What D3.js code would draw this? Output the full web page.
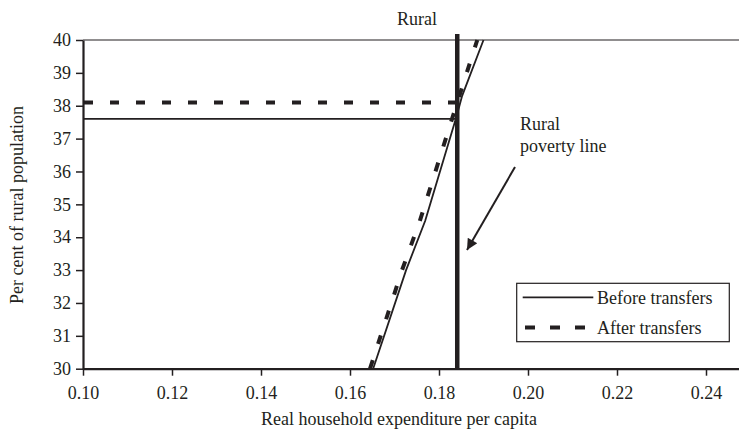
<!DOCTYPE html>
<html>
<head>
<meta charset="utf-8">
<script src="https://cdn.jsdelivr.net/npm/d3@7"></script>
<style>
  html, body { margin: 0; padding: 0; background: #fff; }
  svg text { font-family: "Liberation Serif", "Times New Roman", serif; fill: #231f20; }
</style>
</head>
<body>
<svg id="chart" width="739" height="431"></svg>
<script>
// ---- data ----
const xTicks = [0.10, 0.12, 0.14, 0.16, 0.18, 0.20, 0.22, 0.24];
const yTicks = [30, 31, 32, 33, 34, 35, 36, 37, 38, 39, 40];
const beforeX = [0.1652, 0.1726, 0.1769, 0.1840, 0.1852, 0.1900];
const beforeY = [30, 33, 34.5, 37.7, 38.3, 40];
const afterX = [0.1645, 0.1717, 0.1757, 0.1841, 0.1886];
const afterY = [30, 33, 34.5, 38.1, 40];
const povertyLine = 0.1841;
const beforeRate = 37.6;
const afterRate = 38.1;
const seriesNames = ["Before transfers", "After transfers"];
const title = "Rural";
const annotation = ["Rural", "poverty line"];
const xTitle = "Real household expenditure per capita";
const yTitle = "Per cent of rural population";

// ---- chart ----
const ink = "#231f20";
const svg = d3.select("#chart");
const mLeft = 83, mRight = 739, mTop = 40, mBottom = 368.7;
const x = d3.scaleLinear().domain([0.10, 0.10 + (mRight - mLeft) / 4450]).range([mLeft, mRight]);
const y = d3.scaleLinear().domain([30, 40]).range([mBottom, mTop]);

// top frame line
svg.append("line").attr("x1", mLeft).attr("x2", mRight).attr("y1", y(40)).attr("y2", y(40))
  .attr("stroke", ink).attr("stroke-width", 1.1);

// horizontal poverty rates
svg.append("line").attr("x1", x(0.10)).attr("x2", x(povertyLine)).attr("y1", y(beforeRate)).attr("y2", y(beforeRate))
  .attr("stroke", ink).attr("stroke-width", 1.6);
svg.append("line").attr("x1", x(0.10)).attr("x2", x(povertyLine)).attr("y1", y(afterRate)).attr("y2", y(afterRate))
  .attr("stroke", ink).attr("stroke-width", 4).attr("stroke-dasharray", "9,17").attr("stroke-dashoffset", -1);

// curves
const line = d3.line().x(d => x(d[0])).y(d => y(d[1]));
const beforeData = beforeX.map((v, i) => [v, beforeY[i]]);
const afterData = afterX.map((v, i) => [v, afterY[i]]);
svg.append("path").datum(afterData).attr("d", line).attr("fill", "none")
  .attr("stroke", ink).attr("stroke-width", 4).attr("stroke-dasharray", "9,17");
svg.append("path").datum(beforeData).attr("d", line).attr("fill", "none")
  .attr("stroke", ink).attr("stroke-width", 1.8);

// poverty line
svg.append("line").attr("x1", x(povertyLine)).attr("x2", x(povertyLine)).attr("y1", y(40) - 6).attr("y2", mBottom)
  .attr("stroke", ink).attr("stroke-width", 4.5);

// axes
const yAxis = svg.append("g").attr("transform", `translate(${mLeft},0)`)
  .call(d3.axisLeft(y).tickValues(yTicks).tickFormat(d3.format("d")).tickSize(7).tickPadding(5).tickSizeOuter(0));
const xAxis = svg.append("g").attr("transform", `translate(0,${mBottom})`)
  .call(d3.axisBottom(x).tickValues(xTicks).tickFormat(d3.format(".2f")).tickSize(7).tickPadding(11).tickSizeOuter(0));
[yAxis, xAxis].forEach(g => {
  g.select(".domain").attr("stroke", ink).attr("stroke-width", 2.2);
  g.selectAll(".tick line").attr("stroke", ink).attr("stroke-width", 1.5);
  g.selectAll(".tick text").attr("font-size", 18).attr("fill", ink)
    .style("font-family", '"Liberation Serif", "Times New Roman", serif');
});

// titles
svg.append("text").attr("x", 417).attr("y", 25).attr("text-anchor", "middle").attr("font-size", 18).text(title);
svg.append("text").attr("x", 399).attr("y", 425).attr("text-anchor", "middle").attr("font-size", 18).text(xTitle);
svg.append("text").attr("transform", "translate(23,205) rotate(-90)").attr("text-anchor", "middle").attr("font-size", 18).text(yTitle);

// annotation
svg.append("text").attr("x", 520).attr("y", 130).attr("font-size", 18).text(annotation[0]);
svg.append("text").attr("x", 520).attr("y", 152).attr("font-size", 18).text(annotation[1]);
svg.append("defs").append("marker").attr("id", "arr").attr("viewBox", "0 0 10 10")
  .attr("refX", 10).attr("refY", 5).attr("markerWidth", 14).attr("markerHeight", 11)
  .attr("markerUnits", "userSpaceOnUse").attr("orient", "auto")
  .append("path").attr("d", "M0,0 L10,5 L0,10 Z").attr("fill", ink);
svg.append("line").attr("x1", 515).attr("y1", 167).attr("x2", 467).attr("y2", 250)
  .attr("stroke", ink).attr("stroke-width", 2).attr("marker-end", "url(#arr)");

// legend
const lg = svg.append("g");
lg.append("rect").attr("x", 516.7).attr("y", 283.3).attr("width", 212.6).attr("height", 58.4)
  .attr("fill", "#fff").attr("stroke", ink).attr("stroke-width", 1.2);
lg.append("line").attr("x1", 522.7).attr("x2", 593.3).attr("y1", 297.3).attr("y2", 297.3)
  .attr("stroke", ink).attr("stroke-width", 1.8);
lg.append("line").attr("x1", 525).attr("x2", 593).attr("y1", 327.5).attr("y2", 327.5)
  .attr("stroke", ink).attr("stroke-width", 4).attr("stroke-dasharray", "10,15");
lg.append("text").attr("x", 597).attr("y", 303.5).attr("font-size", 18).text(seriesNames[0]);
lg.append("text").attr("x", 597).attr("y", 334).attr("font-size", 18).text(seriesNames[1]);
</script>
</body>
</html>
